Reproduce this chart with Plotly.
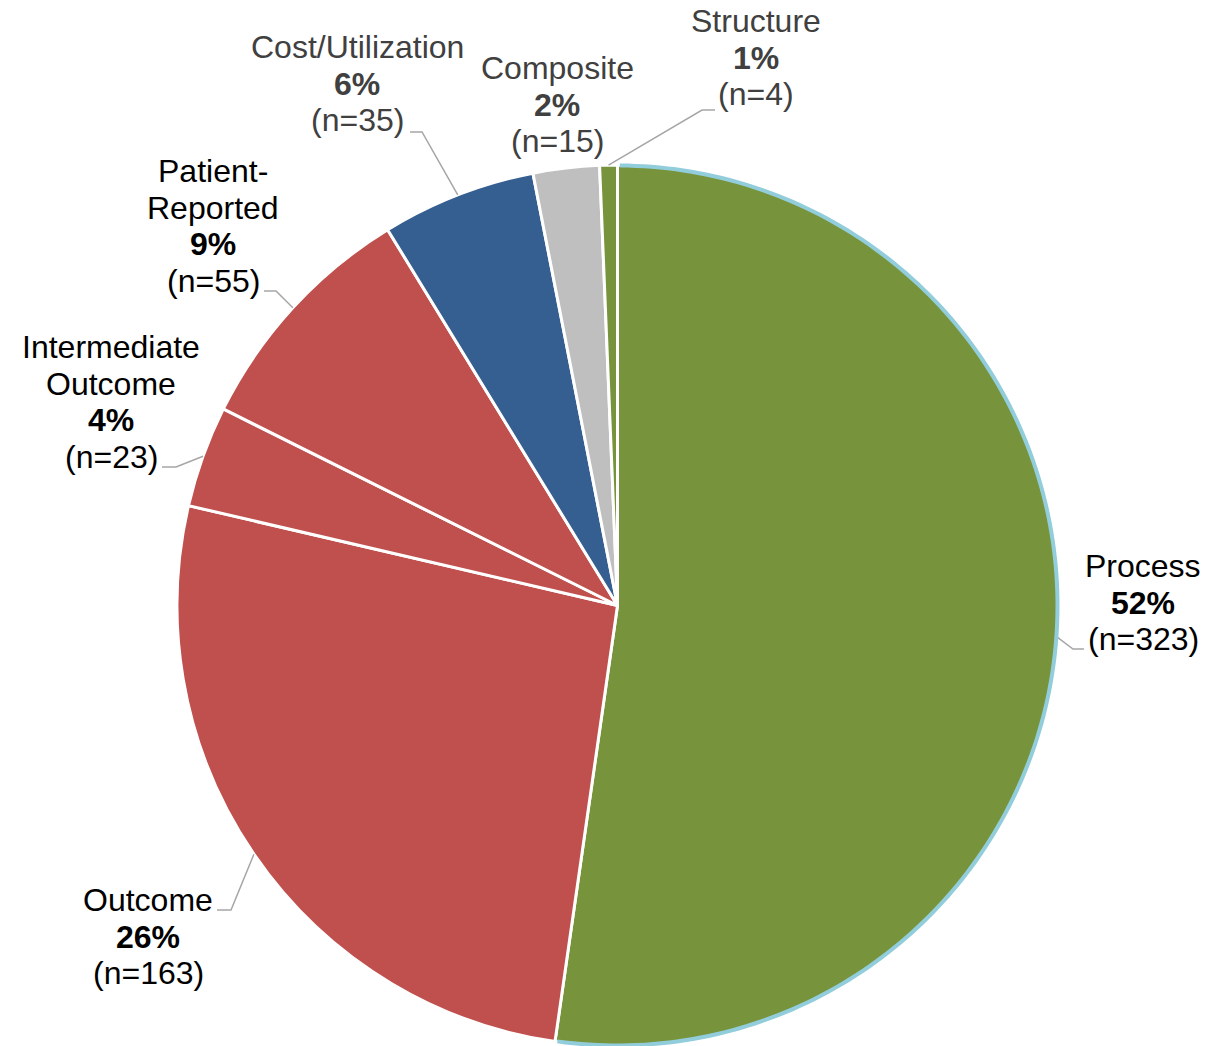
import math
import plotly.graph_objects as go

# Measure counts by type, clockwise from 12 o'clock
categories = ["Process", "Outcome", "Intermediate Outcome", "Patient-Reported",
              "Cost/Utilization", "Composite", "Structure"]
counts = [323, 163, 23, 55, 35, 15, 4]
# Text used for each category label (line breaks as drawn)
label_lines = [["Process"], ["Outcome"], ["Intermediate", "Outcome"], ["Patient-", "Reported"],
               ["Cost/Utilization"], ["Composite"], ["Structure"]]

slice_colors = ["#77933C", "#C0504D", "#C0504D", "#C0504D", "#365F91", "#BFBFBF", "#77933C"]
text_colors = ["#000000", "#000000", "#000000", "#000000", "#404040", "#404040", "#404040"]

W, H = 1225, 1046
CX, CY, R = 617.5, 605.5, 440.5  # pie centre and radius in pixels
FONT = "Liberation Sans, Arial, sans-serif"
FS = 32
LINE_STEP = 36.7

# Label block placement (pixels): centre x, y of first line, leader elbow, leader end
label_layout = {
    "Process": dict(x=1143, y=566, elbow=(1073, 649), end=(1084, 649)),
    "Outcome": dict(x=148, y=900, elbow=(231, 910), end=(217, 910)),
    "Intermediate Outcome": dict(x=111, y=347, elbow=(176, 467), end=(162, 467)),
    "Patient-Reported": dict(x=213, y=171, elbow=(276, 291), end=(264, 291)),
    "Cost/Utilization": dict(x=357, y=47, elbow=(422, 132), end=(410, 132)),
    "Composite": dict(x=557, y=68, elbow=None, end=None),
    "Structure": dict(x=756, y=21, elbow=(702, 110), end=(715, 110)),
}


def px(x):
    return x / W


def py(y):
    return 1 - y / H


def circle_point(deg, r=R):
    a = math.radians(deg)
    return CX + r * math.cos(a), CY - r * math.sin(a)


total = sum(counts)

fig = go.Figure(go.Pie(
    labels=categories,
    values=counts,
    sort=False,
    direction="clockwise",
    rotation=0,
    textinfo="none",
    hoverinfo="skip",
    marker=dict(colors=slice_colors, line=dict(color="#FFFFFF", width=3)),
    domain=dict(x=[(CX - R) / W, (CX + R) / W], y=[1 - (CY + R) / H, 1 - (CY - R) / H]),
    showlegend=False,
))

annotations = []
shapes = []
cum = 0
for name, lines, n, tcol in zip(categories, label_lines, counts, text_colors):
    start_deg = 90 - 360 * cum / total
    mid_deg = 90 - 360 * (cum + n / 2) / total
    end_deg = 90 - 360 * (cum + n) / total
    cum += n

    pct = round(100 * n / total)
    texts = lines + [f"<b>{pct}%</b>", f"(n={n})"]
    lay = label_layout[name]
    for i, t in enumerate(texts):
        annotations.append(dict(
            x=px(lay["x"]), y=py(lay["y"] + i * LINE_STEP), xref="paper", yref="paper",
            text=t, showarrow=False, xanchor="center", yanchor="middle",
            font=dict(family=FONT, size=FS, color=tcol),
        ))

    if lay["elbow"] is not None:
        sx, sy = circle_point(mid_deg)
        ex, ey = lay["elbow"]
        tx, ty = lay["end"]
        shapes.append(dict(
            type="path", xref="paper", yref="paper",
            path=f"M {px(sx)},{py(sy)} L {px(ex)},{py(ey)} L {px(tx)},{py(ty)}",
            line=dict(color="#A6A6A6", width=1.5),
        ))

    # light blue outline along the outer edge of the Process slice
    if name == "Process":
        steps = 180
        pts = []
        for k in range(steps + 1):
            d = (start_deg - 0.3) + ((end_deg + 0.3) - (start_deg - 0.3)) * k / steps
            x, y = circle_point(d, R - 0.5)
            pts.append(f"{px(x)},{py(y)}")
        shapes.append(dict(
            type="path", xref="paper", yref="paper",
            path="M " + " L ".join(pts),
            line=dict(color="#92CDDC", width=4),
        ))

fig.update_layout(
    width=W, height=H,
    margin=dict(l=0, r=0, t=0, b=0),
    paper_bgcolor="#FFFFFF",
    plot_bgcolor="#FFFFFF",
    annotations=annotations,
    shapes=shapes,
)

fig.write_html("out.html")
